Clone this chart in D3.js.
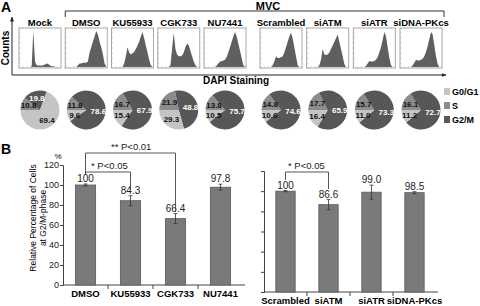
<!DOCTYPE html>
<html>
<head>
<meta charset="utf-8">
<script src="https://cdn.jsdelivr.net/npm/d3@7"></script>
<style>
  body { margin: 0; background: #fff; }
  svg { font-family: "Liberation Sans", Arial, sans-serif; display: block; }
</style>
</head>
<body>
<div id="chart-area"></div>
<script>
// panel A: samples, histograms (normalised counts per DAPI bin) and cell cycle pies
const drugSamples = ["Mock", "DMSO", "KU55933", "CGK733", "NU7441"]
const siSamples = ["Scrambled", "siATM", "siATR", "siDNA-PKcs"]

const histMock = [0,0,0,0,0,0,0,0.02,1.0,0.15,0.05,0.04,0.04,0.04,0.05,0.07,0.1,0.08,0.04,0.02,0.02,0.01,0,0,0]
const histDMSO = [0,0,0,0,0,0,0,0.05,0.1,0.1,0.12,0.12,0.12,0.15,0.4,0.55,0.7,0.85,1.0,0.9,0.7,0.55,0.35,0.1,0]
const histKU = [0,0,0,0,0,0,0,0.1,0.3,0.55,0.4,0.35,0.38,0.42,0.5,0.6,0.7,0.85,0.97,0.8,0.6,0.4,0.2,0.05,0]
const histCGK = [0,0,0,0,0,0,0,0.05,0.5,0.95,0.5,0.35,0.3,0.3,0.32,0.4,0.55,0.65,0.6,0.45,0.3,0.15,0.05,0,0]
const histNU = [0,0,0,0,0,0,0,0.04,0.1,0.15,0.16,0.18,0.2,0.28,0.4,0.55,0.7,0.85,0.97,0.85,0.65,0.45,0.25,0.05,0]
const histScr = [0,0,0,0,0,0,0,0.05,0.15,0.3,0.25,0.25,0.27,0.3,0.4,0.55,0.7,0.85,0.95,0.8,0.55,0.3,0.05,0,0]
const histATM = [0,0,0,0,0,0,0,0.05,0.2,0.5,0.35,0.33,0.35,0.4,0.5,0.6,0.7,0.8,0.9,0.7,0.5,0.3,0.08,0,0]
const histATR = [0,0,0,0,0,0,0,0.03,0.1,0.17,0.15,0.15,0.17,0.2,0.28,0.4,0.55,0.75,0.97,0.85,0.55,0.25,0.05,0,0]
const histPK = [0,0,0,0,0,0,0,0.04,0.12,0.2,0.18,0.18,0.2,0.23,0.3,0.42,0.58,0.78,0.97,0.9,0.6,0.3,0.08,0,0]

const phases = ["G0/G1", "S", "G2/M"]
const pieG0G1 = [69.4, 9.6, 15.4, 29.3, 10.5, 10.6, 16.4, 11.0, 11.2]
const pieS = [10.8, 11.8, 16.7, 21.9, 13.8, 14.8, 17.7, 15.7, 16.1]
const pieG2M = [19.8, 78.6, 67.9, 48.8, 75.7, 74.6, 65.9, 73.3, 72.7]

// panel B: relative % of cells in G2/M
const drugCats = ["DMSO", "KU55933", "CGK733", "NU7441"]
const drugValues = [100, 84.3, 66.4, 97.8]
const drugErrors = [1, 5, 5, 3]
const siCats = ["Scrambled", "siATM", "siATR", "siDNA-PKcs"]
const siValues = [100, 86.6, 99.0, 98.5]
const siErrors = [0.6, 5, 7, 1]
const yTicks = [0, 20, 40, 60, 80, 100, 120]

const phaseColor = { "G0/G1": "#c4c4c4", "S": "#8c8c8c", "G2/M": "#575757" }

const svg = d3.select("#chart-area").append("svg")
    .attr("width", 480)
    .attr("height", 306)

svg.append("text").attr("x", 1).attr("y", 12)
    .attr("font-size", "14px").attr("font-weight", "bold").text("A")
svg.append("text").attr("x", 1).attr("y", 154)
    .attr("font-size", "14px").attr("font-weight", "bold").text("B")

// ---- histograms ----
const allSamples = drugSamples.concat(siSamples)
const hists = [histMock, histDMSO, histKU, histCGK, histNU, histScr, histATM, histATR, histPK]
const xDrug = d3.scalePoint().domain(drugSamples).range([40, 225])
const xSi = d3.scalePoint().domain(siSamples).range([281, 421])
const centerOf = s => drugSamples.includes(s) ? xDrug(s) : xSi(s)

const BOX_W = 42, BOX_TOP = 28, BOX_BOT = 68

// MVC bracket
svg.append("path")
    .attr("d", `M${xDrug("DMSO") - 21},17V11H444V17`)
    .attr("fill", "none").attr("stroke", "#333").attr("stroke-width", 1)
svg.append("text").attr("x", 268).attr("y", 10)
    .attr("text-anchor", "middle").attr("font-size", "11px").attr("font-weight", "bold").text("MVC")

allSamples.forEach((s, i) => {
    const cx = centerOf(s)
    const x0 = cx - BOX_W / 2
    const g = svg.append("g")
    const hx = d3.scaleLinear().domain([0, hists[i].length - 1]).range([x0 + 1, x0 + BOX_W - 1])
    const hy = d3.scaleLinear().domain([0, 1]).range([BOX_BOT - 1, BOX_TOP + 3])
    g.append("path")
        .datum(hists[i])
        .attr("d", d3.area().x((d, j) => hx(j)).y0(BOX_BOT - 1).y1(d => hy(d)))
        .attr("fill", "#5f5f5f")
    g.append("rect")
        .attr("x", x0).attr("y", BOX_TOP)
        .attr("width", BOX_W).attr("height", BOX_BOT - BOX_TOP)
        .attr("fill", "none").attr("stroke", "#a8a8a8").attr("stroke-width", 1)
    // small tick marks along box bottom and left
    d3.range(0, 11).forEach(k => {
        g.append("line")
            .attr("x1", x0 + k * BOX_W / 10).attr("x2", x0 + k * BOX_W / 10)
            .attr("y1", BOX_BOT - 1.5).attr("y2", BOX_BOT)
            .attr("stroke", "#aaa").attr("stroke-width", 0.6)
    })
    d3.range(0, 9).forEach(k => {
        g.append("line")
            .attr("x1", x0).attr("x2", x0 + 1.5)
            .attr("y1", BOX_TOP + k * 5).attr("y2", BOX_TOP + k * 5)
            .attr("stroke", "#aaa").attr("stroke-width", 0.6)
    })
    g.append("text")
        .attr("x", cx).attr("y", 26)
        .attr("text-anchor", "middle").attr("font-size", "9.5px").attr("font-weight", "bold")
        .text(s)
})

// Counts / DAPI axes
const defs = svg.append("defs")
defs.append("marker").attr("id", "arr")
    .attr("viewBox", "0 0 10 10").attr("refX", 9).attr("refY", 5)
    .attr("markerWidth", 5).attr("markerHeight", 5).attr("orient", "auto")
    .append("path").attr("d", "M0,1L10,5L0,9Z").attr("fill", "#222")
svg.append("line").attr("x1", 12).attr("y1", 75).attr("x2", 12).attr("y2", 17)
    .attr("stroke", "#222").attr("marker-end", "url(#arr)")
svg.append("line").attr("x1", 12).attr("y1", 75).attr("x2", 446).attr("y2", 75)
    .attr("stroke", "#222").attr("marker-end", "url(#arr)")
svg.append("text")
    .attr("transform", "translate(9,48) rotate(-90)")
    .attr("text-anchor", "middle").attr("font-size", "10px").attr("font-weight", "bold")
    .text("Counts")
svg.append("text").attr("x", 236).attr("y", 84)
    .attr("text-anchor", "middle").attr("font-size", "10px").attr("font-weight", "bold")
    .text("DAPI Staining")

// ---- pies ----
const R = 19.5, PIE_Y = 110
const pie = d3.pie().sort(null).value(d => d.v)
    .startAngle(-Math.PI / 2).endAngle(Math.PI * 1.5)
const arc = d3.arc().innerRadius(0).outerRadius(R)
const labelArc = d3.arc().innerRadius(R * 0.62).outerRadius(R * 0.62)

allSamples.forEach((s, i) => {
    const slices = [
        { k: "S", v: pieS[i] },
        { k: "G2/M", v: pieG2M[i] },
        { k: "G0/G1", v: pieG0G1[i] }
    ]
    const g = svg.append("g").attr("transform", `translate(${centerOf(s)},${PIE_Y})`)
    const arcs = pie(slices)
    g.selectAll("path").data(arcs).enter().append("path")
        .attr("d", arc)
        .attr("fill", d => phaseColor[d.data.k])
    g.selectAll("text").data(arcs).enter().append("text")
        .attr("transform", d => {
            const c = labelArc.centroid(d)
            // keep the two small left-hand labels apart
            if (d.data.k === "S") c[1] = Math.min(c[1], -4.5)
            if (d.data.k === "G0/G1") c[1] = Math.max(c[1], 5)
            return `translate(${c[0]},${c[1]})`
        })
        .attr("dy", "0.35em")
        .attr("text-anchor", "middle")
        .attr("font-size", "8px").attr("font-weight", "bold")
        .attr("fill", d => d.data.k === "G2/M" ? "#fff" : "#111")
        .text(d => d.data.v.toFixed(1))
})

// legend
phases.forEach((p, i) => {
    svg.append("rect").attr("x", 444).attr("y", 88 + i * 14)
        .attr("width", 6).attr("height", 7).attr("fill", phaseColor[p])
    svg.append("text").attr("x", 452).attr("y", 95 + i * 14)
        .attr("font-size", "9px").attr("font-weight", "bold").text(p)
})

// ---- panel B bar charts ----
function barChart(cats, values, errors, xRange, yRange, showLabels) {
    const x = d3.scaleBand().domain(cats).range(xRange)
        .paddingInner(0.55).paddingOuter(0.275)
    const y = d3.scaleLinear().domain([0, 120]).range(yRange)
    const g = svg.append("g")

    const yAxis = d3.axisLeft(y).tickValues(yTicks).tickSize(3).tickPadding(1)
        .tickFormat(showLabels ? d3.format("d") : "")
    const ya = g.append("g").attr("transform", `translate(${xRange[0]},0)`).call(yAxis)
    ya.select(".domain").attr("stroke", "#444")
    ya.selectAll(".tick line").attr("stroke", "#444")
    ya.selectAll(".tick text").attr("font-size", "9px").attr("fill", "#222")
        .attr("font-family", "Liberation Sans, Arial, sans-serif")

    g.append("line")
        .attr("x1", xRange[0]).attr("x2", xRange[1] + 2)
        .attr("y1", y(0)).attr("y2", y(0)).attr("stroke", "#444")
    // category separators below the axis
    cats.slice(1).forEach(c => {
        g.append("line")
            .attr("x1", x(c) - x.step() * x.paddingInner() / 2)
            .attr("x2", x(c) - x.step() * x.paddingInner() / 2)
            .attr("y1", y(0)).attr("y2", y(0) + 4).attr("stroke", "#444")
    })

    cats.forEach((c, i) => {
        const cx = x(c) + x.bandwidth() / 2
        g.append("rect")
            .attr("x", x(c)).attr("y", y(values[i]))
            .attr("width", x.bandwidth()).attr("height", y(0) - y(values[i]))
            .attr("fill", "#7a7a7a").attr("stroke", "#5a5a5a").attr("stroke-width", 0.8)
        g.append("path")
            .attr("d", `M${cx - 2},${y(values[i] + errors[i])}H${cx + 2}M${cx},${y(values[i] + errors[i])}V${y(values[i] - errors[i])}M${cx - 2},${y(values[i] - errors[i])}H${cx + 2}`)
            .attr("stroke", "#333").attr("stroke-width", 0.8).attr("fill", "none")
        g.append("text")
            .attr("x", cx).attr("y", y(values[i] + errors[i]) - 2)
            .attr("text-anchor", "middle").attr("font-size", "10px").attr("fill", "#222")
            .text(values[i] === 100 ? "100" : values[i].toFixed(1))
        g.append("text")
            .attr("x", cx).attr("y", y(0) + 12)
            .attr("text-anchor", "middle").attr("font-size", "9.5px").attr("font-weight", "bold")
            .text(c)
    })
    return { x, y }
}

const left = barChart(drugCats, drugValues, drugErrors, [63, 243], [285, 165], true)
const right = barChart(siCats, siValues, siErrors, [264, 436], [292, 171], false)

svg.append("text").attr("x", 58).attr("y", 159)
    .attr("text-anchor", "middle").attr("font-size", "8px").text("%")
svg.append("text")
    .attr("transform", "translate(36,218) rotate(-90)")
    .attr("text-anchor", "middle").attr("font-size", "8.5px")
    .text("Relative Percentage of Cells")
svg.append("text")
    .attr("transform", "translate(46,218) rotate(-90)")
    .attr("text-anchor", "middle").attr("font-size", "8.5px")
    .text("at G2/M-phase")

// significance brackets
function bracket(chart, a, b, yTop, yA, yB, label, labelX, labelY) {
    const xa = chart.x(a) + chart.x.bandwidth() / 2
    const xb = chart.x(b) + chart.x.bandwidth() / 2
    svg.append("path")
        .attr("d", `M${xa},${yA}V${yTop}H${xb}V${yB}`)
        .attr("fill", "none").attr("stroke", "#444").attr("stroke-width", 0.9)
    svg.append("text").attr("x", labelX).attr("y", labelY)
        .attr("font-size", "9.5px").attr("fill", "#222").text(label)
}
bracket(left, "DMSO", "CGK733", 153, 174, 212, "** P<0.01", 111, 150)
bracket(left, "DMSO", "KU55933", 172, 174, 190, "* P<0.05", 91, 169)
bracket(right, "Scrambled", "siATM", 172, 180, 189, "* P<0.05", 288, 169)
</script>
</body>
</html>
